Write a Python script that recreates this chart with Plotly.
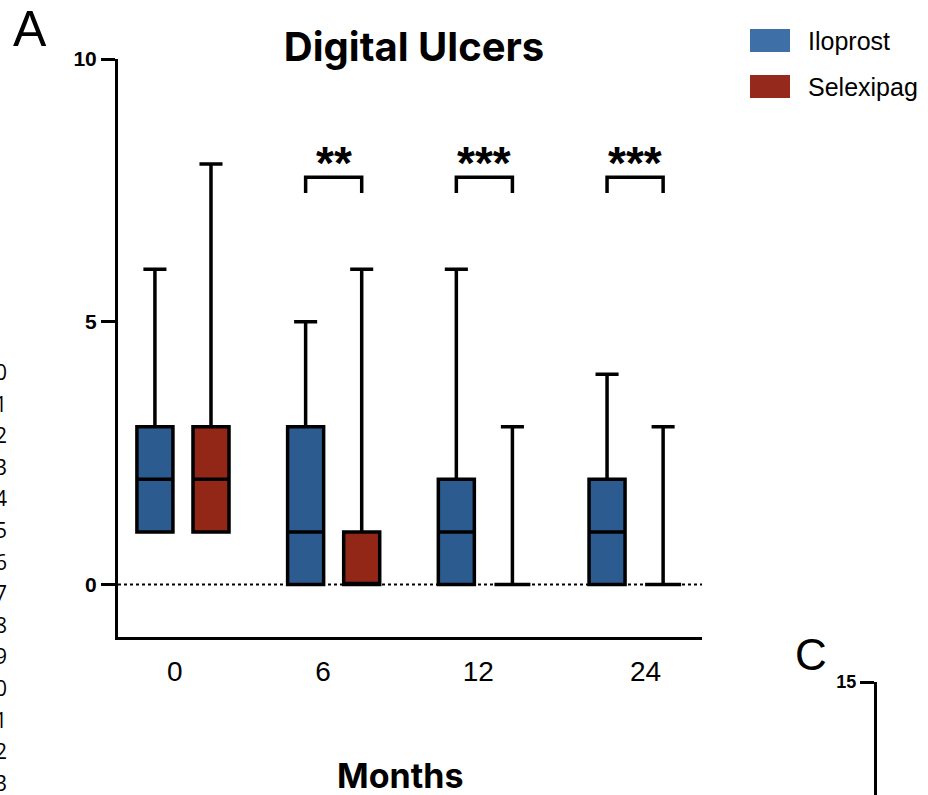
import plotly.graph_objects as go

W, H = 928, 795

# ---------------- data ----------------
months = ["0", "6", "12", "24"]
month_label_pos = [-0.055, 0.93, 1.96, 3.07]
series = ["Iloprost", "Selexipag"]
box_colors = ["#2b5b8f", "#922617"]
legend_colors = ["#3f6fa7", "#952a1c"]

ilo_min = [1, 0, 0, 0]
ilo_q1 = [1, 0, 0, 0]
ilo_med = [2, 1, 1, 1]
ilo_q3 = [3, 3, 2, 2]
ilo_max = [6, 5, 6, 4]

sel_min = [1, 0, 0, 0]
sel_q1 = [1, 0, 0, 0]
sel_med = [2, 0, 0, 0]
sel_q3 = [3, 1, 0, 0]
sel_max = [8, 6, 3, 3]

sig_labels = ["", "**", "***", "***"]
line_numbers = ["0", "1", "2", "3", "4", "5", "6", "7", "8", "9", "0", "1", "2", "3"]

# ---------------- layout helpers ----------------
def px_x(p):
    return p / W

def px_y(p):
    return 1 - p / H

offset = 0.186
box_w = 0.239
idx = list(range(len(months)))
x_ilo = [i - offset for i in idx]
x_sel = [i + offset for i in idx]

fig = go.Figure()

stats = [
    (x_ilo, ilo_min, ilo_q1, ilo_med, ilo_q3, ilo_max),
    (x_sel, sel_min, sel_q1, sel_med, sel_q3, sel_max),
]
for name, col, (xs, lo, q1, med, q3, hi) in zip(series, box_colors, stats):
    fig.add_trace(go.Box(
        name=name, x=xs, q1=q1, median=med, q3=q3,
        lowerfence=lo, upperfence=hi,
        width=box_w, whiskerwidth=0.64, boxpoints=False,
        fillcolor=col, line=dict(color="black", width=3.5),
        showlegend=False, hoverinfo="skip",
    ))

# significance brackets
br_lo, br_hi, star_y = 7.45, 7.75, 8.02
bx, by = [], []
for i, lab in enumerate(sig_labels):
    if lab:
        bx += [x_ilo[i], x_ilo[i], x_sel[i], x_sel[i], None]
        by += [br_lo, br_hi, br_hi, br_lo, None]
        fig.add_annotation(x=i, y=star_y, text="<b>%s</b>" % lab, showarrow=False,
                           font=dict(family="Liberation Sans", size=46, color="black"),
                           xanchor="center", yanchor="middle")
fig.add_trace(go.Scatter(x=bx, y=by, mode="lines", line=dict(color="black", width=3.5),
                         showlegend=False, hoverinfo="skip"))

# zero reference line
fig.add_hline(y=0, line=dict(color="black", width=2, dash="dot"))

# panel C partial axis (empty subplot)
fig.add_trace(go.Scatter(x=[], y=[], xaxis="x2", yaxis="y2", showlegend=False))

fig.update_layout(
    width=W, height=H, margin=dict(l=0, r=0, t=0, b=0, autoexpand=False),
    paper_bgcolor="white", plot_bgcolor="white", showlegend=False,
    xaxis=dict(domain=[px_x(118), px_x(702)], range=[-0.431, 3.444], automargin=False,
               showline=True, linewidth=3, linecolor="black", showgrid=False, zeroline=False,
               tickvals=month_label_pos, ticktext=months, ticks="", ticklabelstandoff=7,
               tickfont=dict(family="Liberation Sans", size=28, color="black")),
    yaxis=dict(domain=[px_y(637), px_y(59)], range=[-1, 10], automargin=False,
               showline=True, linewidth=3, linecolor="black", showgrid=False, zeroline=False,
               tickvals=[0, 5, 10], ticks="outside", ticklen=14, tickwidth=3, tickcolor="black",
               tickfont=dict(family="Liberation Sans", size=21, color="black", weight="bold")),
    xaxis2=dict(domain=[px_x(877), 1.0], anchor="y2", visible=False, range=[0, 1],
                automargin=False),
    yaxis2=dict(domain=[0, px_y(682)], anchor="x2", range=[5, 15], automargin=False,
                showline=True, linewidth=3, linecolor="black", showgrid=False, zeroline=False,
                tickvals=[15], ticks="outside", ticklen=14, tickwidth=3, tickcolor="black",
                tickfont=dict(family="Liberation Sans", size=18, color="black", weight="bold")),
    title=dict(text="Digital Ulcers", x=px_x(414), xref="container", xanchor="center",
               y=px_y(47), yref="container", yanchor="middle", automargin=False,
               font=dict(family="Inter", size=40, color="black", weight="bold")),
)

# x axis title
fig.add_annotation(x=px_x(400), y=px_y(775), xref="paper", yref="paper", text="Months",
                   showarrow=False, xanchor="center", yanchor="middle",
                   font=dict(family="Inter", size=34, color="black", weight="bold"))

# panel letters
fig.add_annotation(x=px_x(11), y=px_y(29), xref="paper", yref="paper", text="A",
                   showarrow=False, xanchor="left", yanchor="middle",
                   font=dict(family="Liberation Sans", size=50, color="black"))
fig.add_annotation(x=px_x(793), y=px_y(654), xref="paper", yref="paper", text="C",
                   showarrow=False, xanchor="left", yanchor="middle",
                   font=dict(family="Liberation Sans", size=44, color="black"))

# legend
sw_top = [29, 75]
for name, col, top in zip(series, legend_colors, sw_top):
    fig.add_shape(type="rect", xref="paper", yref="paper",
                  x0=px_x(750), x1=px_x(790), y0=px_y(top + 23), y1=px_y(top),
                  fillcolor=col, line=dict(width=0))
    fig.add_annotation(x=px_x(806), y=px_y(top + 12), xref="paper", yref="paper", text=name,
                       showarrow=False, xanchor="left", yanchor="middle",
                       font=dict(family="Liberation Sans", size=25, color="black"))

# clipped line numbers at the left edge
for k, d in enumerate(line_numbers):
    fig.add_annotation(x=px_x(9), y=px_y(372 + 31.6 * k), xref="paper", yref="paper", text=d,
                       showarrow=False, xanchor="right", yanchor="middle",
                       font=dict(family="Open Sans", size=21, color="black"))

fig.write_html("out.html")
